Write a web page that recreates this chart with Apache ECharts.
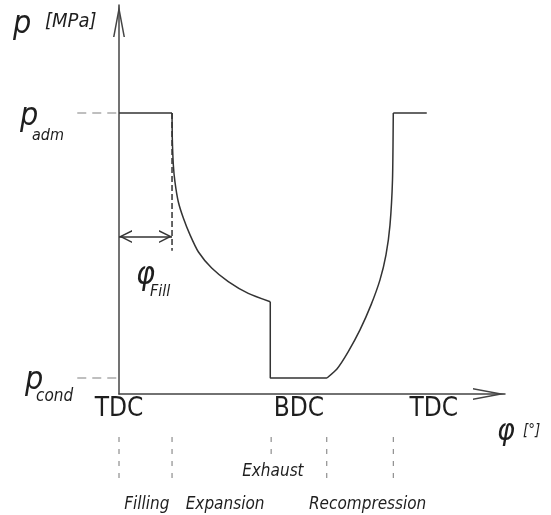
<!DOCTYPE html>
<html><head><meta charset="utf-8">
<script src="https://cdn.jsdelivr.net/npm/echarts@6/dist/echarts.min.js"></script>
<style>html,body{margin:0;padding:0;background:#fff}#c{width:551px;height:515px}</style>
</head><body><div id="c"></div>
<script>
// ---- data (phi in degrees, p in MPa, schematic) ----
const pAdm = 10;
const pCond = 0.57;
const phiFill = 61;
const phiExhaust = 174;
const phiRecomp = 239.2;
const phiAdmit = 315.5;
const phiEnd = 354;
const expansionPhi = [61, 61.3, 62.5, 64.4, 68.2, 74.0, 81.7, 91.2, 106.6, 125.7, 148.7, 174];
const expansionP   = [10, 9.11, 8.15, 7.54, 6.84, 6.26, 5.66, 5.06, 4.48, 4.00, 3.58, 3.28];
const recompPhi = [239.2, 250.7, 263.4, 277.2, 289.9, 300.2, 307.1, 311.7, 314.6, 315.5];
const recompP   = [0.57, 0.89, 1.49, 2.28, 3.17, 4.06, 4.95, 6.01, 7.62, 10];
const phiTickLabels = ['TDC', 'BDC', 'TDC'];
const phiTickPos = [0, 207, 362];
const stageMarkPhi = [0, 61, 175, 239, 315.5];
const stageMarkLen = [-2.99, -2.99, -2.17, -2.99, -2.99];
const stageNames = ['Filling', 'Expansion', 'Exhaust', 'Recompression'];
const stageNamePhi = [32, 122, 177, 286];
const stageNameP = [-3.95, -3.95, -2.77, -3.95];
const fillArrowP = 5.6;
const fillDashEndP = 5.1;
const guideStartPhi = -48;

const FF = '"Liberation Sans Narrow","DejaVu Sans Condensed",sans-serif';
const LINE = '#333';
const TXT = '#1e1e1e';
const axisArrow = 'path://M0,0L0.001,0L0,0.001Z M6,32 L12,64 L10.5,64 L6,40 L1.5,64 L0,64Z';
const headArrow = 'path://M0,0L0.001,0L0,0.001Z M6.5,13 L13,26 L11.4,26 L6.5,16.2 L1.6,26 L0,26Z';

const zip = (a, b) => a.map((v, i) => [v, b[i]]);
const seg = (data, style, extra) => Object.assign({
  type: 'line', data, symbol: 'none', showSymbol: false, silent: true,
  animation: false, clip: false, lineStyle: style, emphasis: { disabled: true }
}, extra || {});

const solid = { color: LINE, width: 1.5 };
const series = [
  seg([[0, pAdm], [phiFill, pAdm]], solid, {
    markLine: {
      silent: true, animation: false, symbol: [headArrow, headArrow], symbolSize: [13, 26],
      label: { show: false }, lineStyle: { color: LINE, width: 1.5, type: 'solid' },
      data: [[{ coord: [0, fillArrowP] }, { coord: [phiFill, fillArrowP] }]]
    }
  }),
  seg(zip(expansionPhi, expansionP), solid, { smooth: 0.2 }),
  seg([[phiExhaust, expansionP[expansionP.length - 1]], [phiExhaust, pCond], [phiRecomp, pCond]], solid),
  seg(zip(recompPhi, recompP), solid, { smooth: 0.2 }),
  seg([[phiAdmit, pAdm], [phiEnd, pAdm]], solid),
  seg([[phiFill, pAdm], [phiFill, fillDashEndP]], { color: LINE, width: 1.5, type: [6, 3] })
];
stageMarkPhi.forEach((phi, i) => {
  series.push(seg([[phi, -1.53], [phi, stageMarkLen[i]]], { color: '#777', width: 1, type: [5, 7] }));
});

const chart = echarts.init(document.getElementById('c'), null, { renderer: 'canvas' });
chart.setOption({
  backgroundColor: '#fff',
  animation: false,
  grid: { left: 119, right: 46, top: 5, bottom: 121, containLabel: false, outerBoundsMode: 'none' },
  xAxis: {
    type: 'value', min: 0, max: 444,
    axisLine: { show: true, onZero: false, lineStyle: { color: '#444', width: 1.5 }, symbol: ['none', axisArrow], symbolSize: [12, 64] },
    axisTick: { show: false }, splitLine: { show: false },
    axisLabel: {
      customValues: phiTickPos, showMinLabel: true, showMaxLabel: true,
      formatter: v => phiTickLabels[phiTickPos.indexOf(v)] || '',
      fontFamily: FF, fontSize: 26, color: TXT, margin: 2
    }
  },
  yAxis: {
    type: 'value', min: 0, max: 13.84,
    axisLine: { show: true, onZero: false, lineStyle: { color: '#444', width: 1.5 }, symbol: ['none', axisArrow], symbolSize: [12, 64] },
    axisTick: { show: false }, splitLine: { show: false }, axisLabel: { show: false }
  },
  series
});

const px = (phi, p) => chart.convertToPixel({ gridIndex: 0 }, [phi, p]);
const t = (text, x, y, size, opts) => Object.assign({
  type: 'text', silent: true,
  style: Object.assign({ text, x, y, font: 'italic ' + size + 'px ' + FF, fill: TXT,
    align: 'left', verticalAlign: 'middle', textAlign: 'left', textVerticalAlign: 'middle' }, opts || {})
});
const guide = (p) => {
  const a = px(guideStartPhi, p), b = px(0, p);
  return { type: 'line', silent: true, shape: { x1: a[0], y1: a[1], x2: b[0], y2: b[1] },
    style: { stroke: '#aaa', lineWidth: 1.5, lineDash: [9, 6] } };
};
const g = [
  guide(pAdm), guide(pCond),
  t('p', 13, 25, 32), t('[MPa]', 45, 22, 20),
  t('p', 20, 117, 32), t('adm', 32, 136, 16),
  t('p', 25, 381, 32), t('cond', 36, 397, 17),
  t('φ', 136, 276, 32), t('Fill', 150, 292, 16),
  t('φ', 497, 432, 30), t('[°]', 523, 431, 15)
];
stageNames.forEach((n, i) => {
  const q = px(stageNamePhi[i], stageNameP[i]);
  g.push(t(n, q[0], q[1], 17, { align: 'center', textAlign: 'center' }));
});
chart.setOption({ graphic: { elements: g } });
</script></body></html>
